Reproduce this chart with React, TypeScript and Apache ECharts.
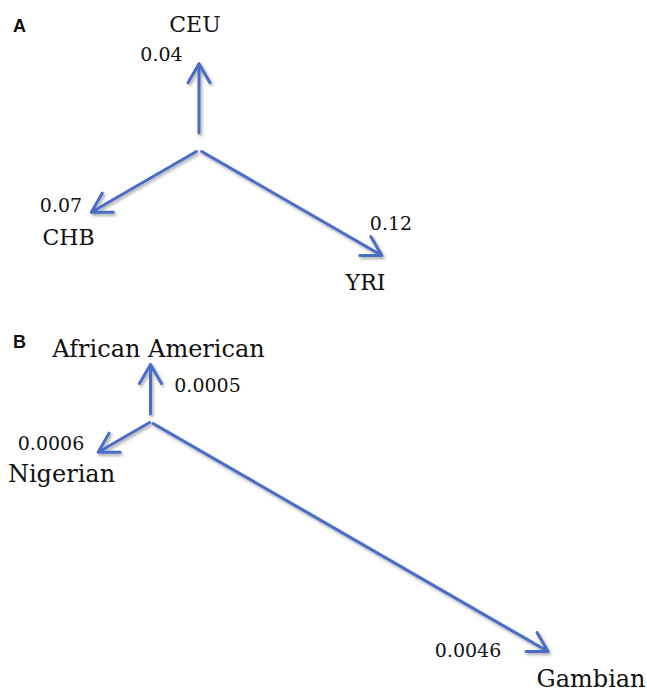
import { useEffect, useRef } from "react";
import * as echarts from "echarts";

const WIDTH = 647;
const HEIGHT = 692;

// Panel A: HapMap populations and their branch lengths
const POPULATIONS_A = ["CEU", "CHB", "YRI"];
const BRANCH_LENGTHS_A = [0.04, 0.07, 0.12];

// Panel B: African American, Nigerian and Gambian samples
const POPULATIONS_B = ["African American", "Nigerian", "Gambian"];
const BRANCH_LENGTHS_B = [0.0005, 0.0006, 0.0046];

const PANEL_LETTERS = ["A", "B"];

// Unrooted three-leaf layout: one branch straight up, the others at ±120°
const BRANCH_ANGLES = [90, 210, 330];

const BLUE = "#4a6cc6";
const SERIF = '"DejaVu Serif", serif';
const HEAD_LEN = 22;
const HEAD_ANGLE = (30 * Math.PI) / 180;

type PanelLayout = {
  top: number;
  height: number;
  rootX: number;
  rootY: number;
  pxPerUnit: number;
  gaps: number[];
  nameOffsets: [number, number][];
  valueOffsets: [number, number][];
  nameSize: number;
  letterY: number;
};

const LAYOUT_A: PanelLayout = {
  top: 0,
  height: 330,
  rootX: 199,
  rootY: 150,
  pxPerUnit: 1734,
  gaps: [17, 3, 3],
  nameOffsets: [
    [-4, -39],
    [-22.8, 25.3],
    [-16.3, 27],
  ],
  valueOffsets: [
    [-37.5, -9.6],
    [-30.3, -6.7],
    [9.2, -33],
  ],
  nameSize: 22,
  letterY: 26,
};

const LAYOUT_B: PanelLayout = {
  top: 330,
  height: 362,
  rootX: 150.5,
  rootY: 92,
  pxPerUnit: 99140,
  gaps: [8, 1, 3],
  nameOffsets: [
    [8, -15.4],
    [-36.6, 21.8],
    [43, 27],
  ],
  valueOffsets: [
    [57, 21],
    [-47.1, -9.2],
    [-80, -1.5],
  ],
  nameSize: 24,
  letterY: 342,
};

function branchData(lengths: number[]) {
  return lengths.map((len, i) => {
    const a = (BRANCH_ANGLES[i] * Math.PI) / 180;
    return [len * Math.cos(a), len * Math.sin(a), i];
  });
}

function makeSeries(
  panel: number,
  names: string[],
  lengths: number[],
  layout: PanelLayout
) {
  return {
    type: "custom",
    coordinateSystem: "cartesian2d",
    xAxisIndex: panel,
    yAxisIndex: panel,
    silent: true,
    data: branchData(lengths),
    encode: { x: 0, y: 1 },
    renderItem: (_params: any, api: any) => {
      const i = api.value(2) as number;
      const root = api.coord([0, 0]);
      const end = api.coord([api.value(0), api.value(1)]);
      const vx = end[0] - root[0];
      const vy = end[1] - root[1];
      const len = Math.hypot(vx, vy) || 1;
      const ux = vx / len;
      const uy = vy / len;
      const gap = layout.gaps[i];
      const sx = root[0] + ux * gap;
      const sy = root[1] + uy * gap;
      const tx = sx + vx;
      const ty = sy + vy;
      const bx = -ux;
      const by = -uy;
      const wing = (ang: number) => [
        tx + HEAD_LEN * (bx * Math.cos(ang) - by * Math.sin(ang)),
        ty + HEAD_LEN * (bx * Math.sin(ang) + by * Math.cos(ang)),
      ];
      const nOff = layout.nameOffsets[i];
      const vOff = layout.valueOffsets[i];
      return {
        type: "group",
        children: [
          {
            // shaft and open arrowhead as one stroke
            type: "polyline",
            shape: {
              points: [
                [sx, sy],
                [tx, ty],
                wing(HEAD_ANGLE),
                [tx, ty],
                wing(-HEAD_ANGLE),
              ],
            },
            style: {
              stroke: BLUE,
              fill: "none",
              lineWidth: 3,
              lineCap: "round",
              lineJoin: "round",
              shadowBlur: 3,
              shadowColor: "rgba(0,0,0,0.35)",
              shadowOffsetX: 1.5,
              shadowOffsetY: 2,
            },
          },
          {
            type: "text",
            x: tx + nOff[0],
            y: ty + nOff[1],
            style: {
              text: names[i],
              fontFamily: SERIF,
              fontSize: layout.nameSize,
              fill: "#111",
              align: "center",
              verticalAlign: "middle",
            },
          },
          {
            type: "text",
            x: tx + vOff[0],
            y: ty + vOff[1],
            style: {
              text: String(lengths[i]),
              fontFamily: SERIF,
              fontSize: 19,
              fill: "#111",
              align: "center",
              verticalAlign: "middle",
            },
          },
        ],
      };
    },
  };
}

function axesFor(panel: number, layout: PanelLayout) {
  const k = layout.pxPerUnit;
  return {
    x: {
      type: "value",
      gridIndex: panel,
      show: false,
      min: -layout.rootX / k,
      max: (WIDTH - layout.rootX) / k,
    },
    y: {
      type: "value",
      gridIndex: panel,
      show: false,
      min: -(layout.height - layout.rootY) / k,
      max: layout.rootY / k,
    },
  };
}

export default function App() {
  const ref = useRef<HTMLDivElement>(null);

  useEffect(() => {
    if (!ref.current) return;
    const chart = echarts.init(ref.current, null, { renderer: "svg" });
    const layouts = [LAYOUT_A, LAYOUT_B];
    const axes = layouts.map((l, p) => axesFor(p, l));

    chart.setOption({
      animation: false,
      backgroundColor: "#ffffff",
      grid: layouts.map((l) => ({
        left: 0,
        width: WIDTH,
        top: l.top,
        height: l.height,
        outerBoundsMode: "none",
      })),
      xAxis: axes.map((a) => a.x),
      yAxis: axes.map((a) => a.y),
      graphic: PANEL_LETTERS.map((letter, p) => ({
        type: "text",
        x: 13,
        y: layouts[p].letterY,
        style: {
          text: letter,
          font: 'bold 18px "Liberation Sans", Arial, sans-serif',
          fill: "#111",
          align: "left",
          verticalAlign: "middle",
        },
      })),
      series: [
        makeSeries(0, POPULATIONS_A, BRANCH_LENGTHS_A, LAYOUT_A),
        makeSeries(1, POPULATIONS_B, BRANCH_LENGTHS_B, LAYOUT_B),
      ],
    });

    return () => chart.dispose();
  }, []);

  return (
    <div
      ref={ref}
      style={{
        position: "fixed",
        left: 0,
        top: 0,
        width: WIDTH,
        height: HEIGHT,
        background: "#fff",
      }}
    />
  );
}
